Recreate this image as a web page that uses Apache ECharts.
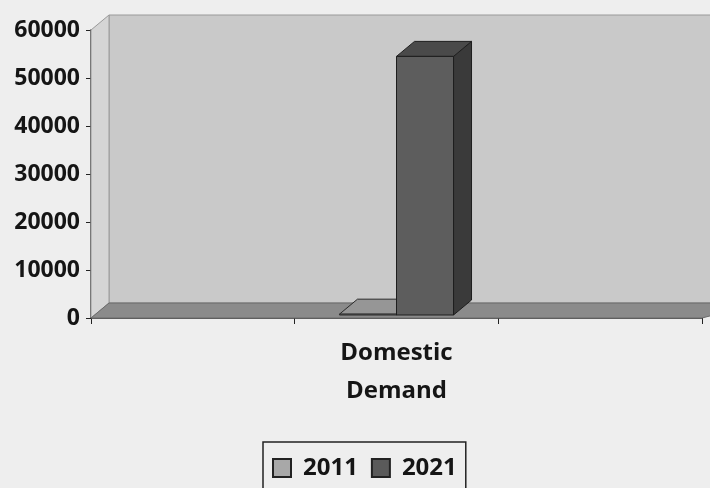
<!DOCTYPE html>
<html>
<head>
<meta charset="utf-8">
<script src="https://cdn.jsdelivr.net/npm/echarts@6/dist/echarts.min.js"></script>
<style>
html,body{margin:0;padding:0;background:#eeeeee;}
#chart{width:710px;height:488px;}
</style>
</head>
<body>
<div id="chart"></div>
<script>
// ---- data ----
const categories = ['', 'Domestic\nDemand', ''];
const seriesNames = ['2011', '2021'];
const values2011 = [0, 800, 0];
const values2021 = [0, 54500, 0];
const yTicks = [0, 10000, 20000, 30000, 40000, 50000, 60000];

const DX = 18, DY = -15;
const FONT = '"Open Sans", Lato, sans-serif';

const palettes = {
  '2011': {front: '#a3a3a3', top: '#969696', side: '#7a7a7a', border: '#2a2a2a'},
  '2021': {front: '#5d5d5d', top: '#4a4a4a', side: '#3a3a3a', border: '#1e1e1e'}
};

function wallRender(params, api) {
  const cs = params.coordSys;
  const x = cs.x, y = cs.y, w = cs.width, h = cs.height;
  return {
    type: 'group',
    children: [
      {type: 'rect', shape: {x: x + DX, y: y + DY, width: w + 40, height: h},
       style: {fill: '#c9c9c9', stroke: '#9a9a9a', lineWidth: 1}},
      {type: 'polygon', shape: {points: [[x, y], [x + DX, y + DY], [x + DX, y + h + DY], [x, y + h]]},
       style: {fill: '#d5d5d5', stroke: '#9a9a9a', lineWidth: 1}},
      {type: 'polygon', shape: {points: [[x, y + h], [x + DX, y + h + DY], [x + w + DX + 40, y + h + DY], [x + w, y + h]]},
       style: {fill: '#8b8b8b', stroke: '#6a6a6a', lineWidth: 1}}
    ]
  };
}

function makeBarRender(idx, name) {
  return function (params, api) {
    const i = api.value(0), v = api.value(1);
    if (!v) return null;
    const base = api.coord([i, 0]);
    const top = api.coord([i, v]);
    const bandW = api.size([1, 0])[0];
    const bw = bandW * 0.28;
    const x0 = base[0] + (idx === 0 ? -bw : 0);
    const x1 = x0 + bw;
    const yb = base[1] - 3, yt = top[1];
    const p = palettes[name];
    return {
      type: 'group',
      children: [
        {type: 'polygon', shape: {points: [[x1, yb], [x1 + DX, yb + DY], [x1 + DX, yt + DY], [x1, yt]]},
         style: {fill: p.side, stroke: p.border, lineWidth: 1}},
        {type: 'polygon', shape: {points: [[x0, yt], [x0 + DX, yt + DY], [x1 + DX, yt + DY], [x1, yt]]},
         style: {fill: p.top, stroke: p.border, lineWidth: 1}},
        {type: 'rect', shape: {x: x0, y: yt, width: bw, height: Math.max(yb - yt, 0)},
         style: {fill: p.front, stroke: p.border, lineWidth: 1}}
      ]
    };
  };
}

const chart = echarts.init(document.getElementById('chart'), null, {renderer: 'canvas'});
chart.setOption({
  backgroundColor: '#eeeeee',
  animation: false,
  grid: {left: 91, right: 8, top: 30, bottom: 170},
  legend: {
    data: seriesNames.map(n => ({name: n, icon: 'rect'})),
    top: 442,
    left: 263,
    itemWidth: 18,
    itemHeight: 18,
    itemGap: 13,
    padding: [14, 9, 30, 9],
    borderColor: '#222',
    borderWidth: 1.5,
    formatter: n => '{a|' + n + '}',
    textStyle: {fontFamily: FONT, fontWeight: 'bold', fontSize: 24, color: '#151515',
      rich: {a: {fontFamily: FONT, fontWeight: 'bold', fontSize: 24, color: '#151515', padding: [0, 0, 0, 7]}}}
  },
  xAxis: {
    type: 'category',
    data: categories,
    axisLine: {show: true, lineStyle: {color: '#222', width: 1.5}},
    axisTick: {show: true, length: 6, lineStyle: {color: '#222'}},
    axisLabel: {fontFamily: FONT, fontWeight: 'bold', fontSize: 24, color: '#151515', margin: 16, lineHeight: 38}
  },
  yAxis: {
    type: 'value',
    min: 0, max: 60000, interval: 10000,
    axisLine: {show: true, lineStyle: {color: '#222', width: 1.5}},
    axisTick: {show: true, length: 5, lineStyle: {color: '#222'}},
    splitLine: {show: false},
    axisLabel: {fontFamily: FONT, fontWeight: 'bold', fontSize: 23, color: '#151515', margin: 11,
      formatter: v => yTicks.includes(v) ? String(v) : ''}
  },
  series: [
    {type: 'custom', name: 'wall', renderItem: wallRender, data: [[0, 0]], z: 1, silent: true},
    {type: 'custom', name: '2011', renderItem: makeBarRender(0, '2011'), z: 2,
     itemStyle: {color: '#a8a8a8', borderColor: '#222', borderWidth: 1.5},
     encode: {x: 0, y: 1}, data: values2011.map((v, i) => [i, v])},
    {type: 'custom', name: '2021', renderItem: makeBarRender(1, '2021'), z: 3,
     itemStyle: {color: '#5a5a5a', borderColor: '#222', borderWidth: 1.5},
     encode: {x: 0, y: 1}, data: values2021.map((v, i) => [i, v])}
  ]
});
</script>
</body>
</html>
